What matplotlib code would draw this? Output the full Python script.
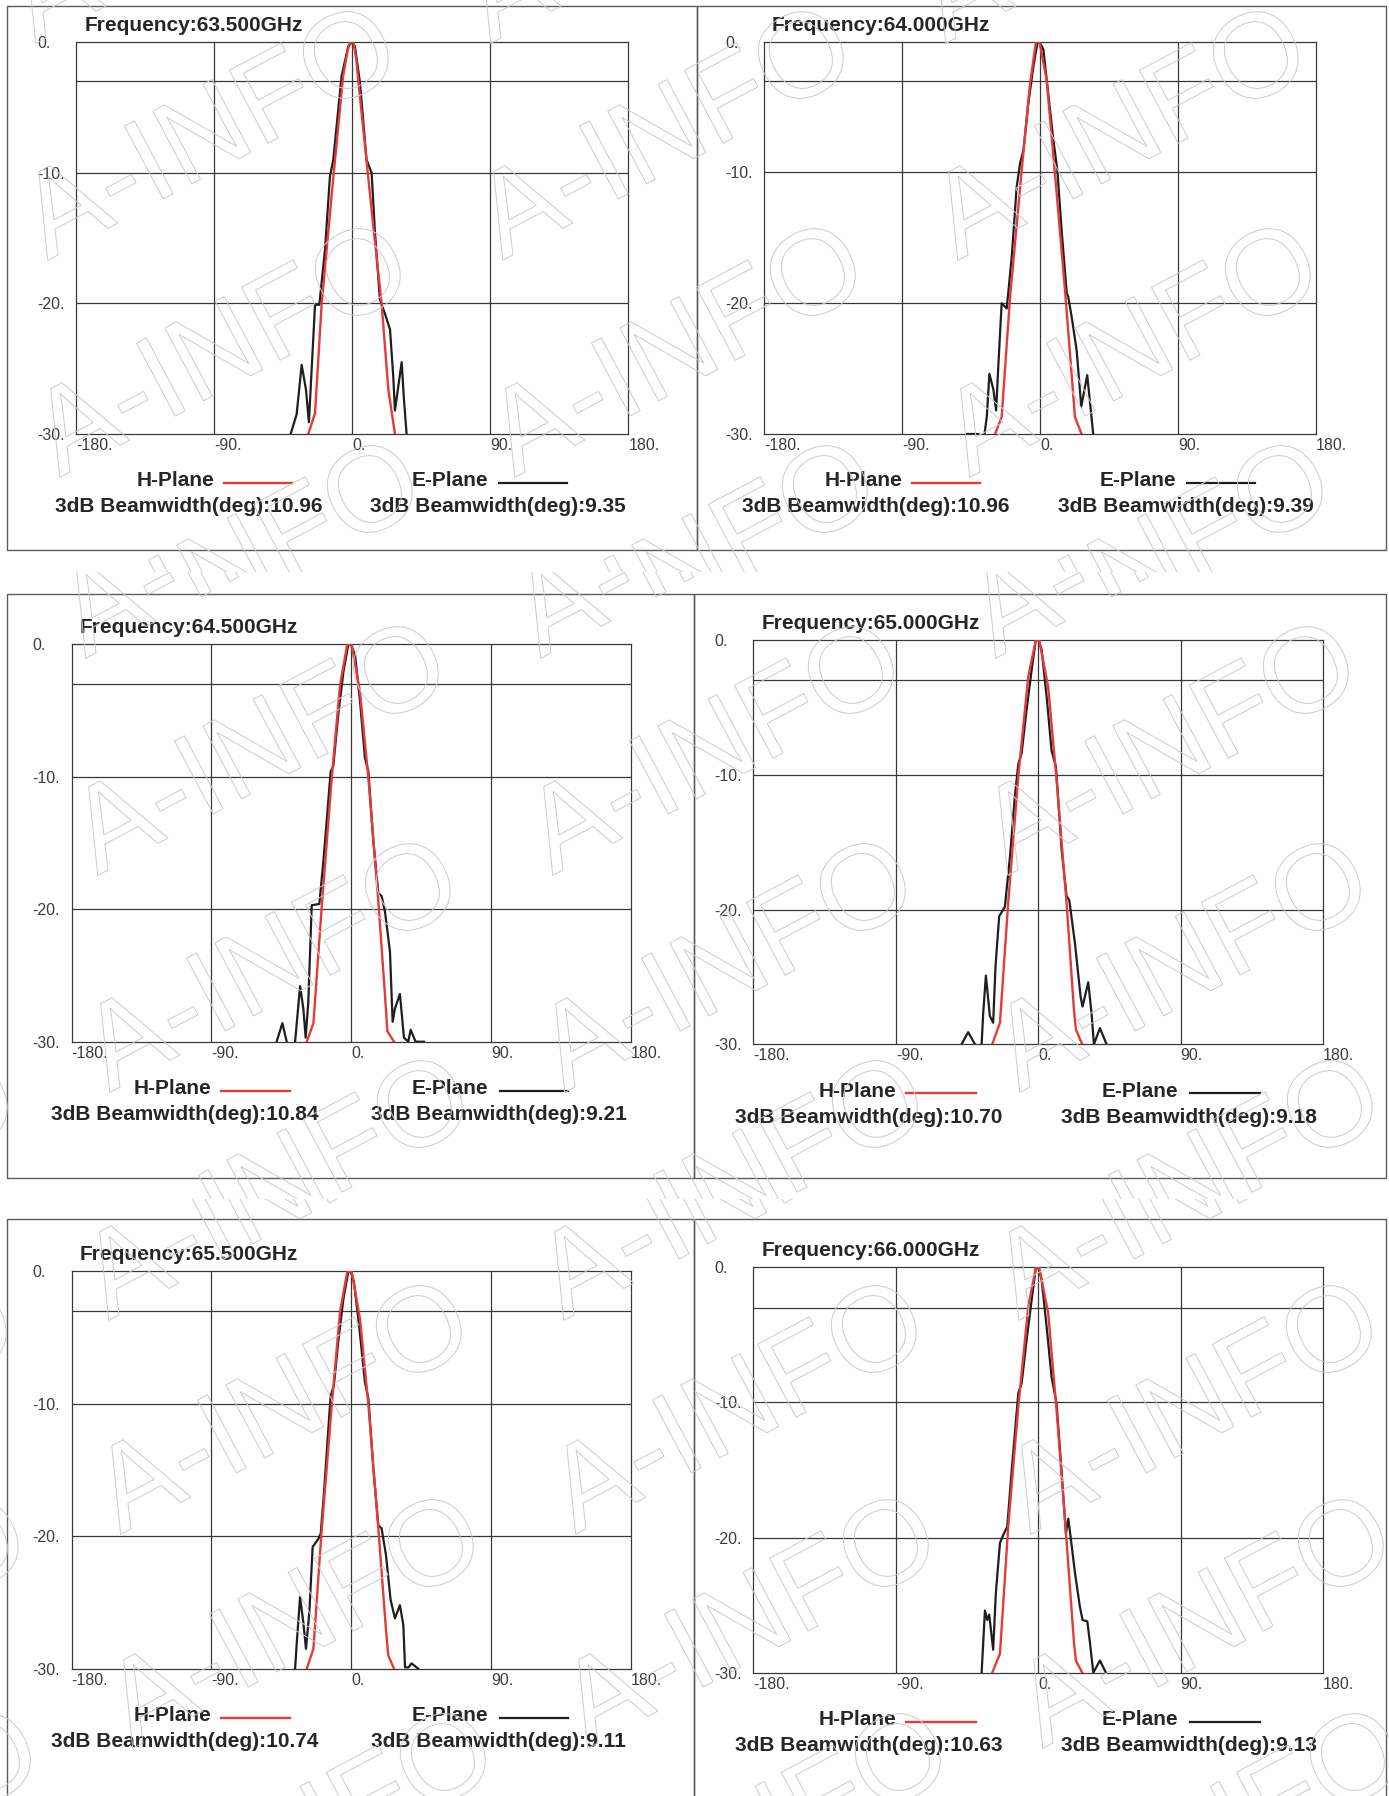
import numpy as np
import matplotlib
matplotlib.use("Agg")
import matplotlib.pyplot as plt
from matplotlib.textpath import TextPath
from matplotlib.font_manager import FontProperties
from matplotlib.patches import PathPatch, Rectangle
from matplotlib.transforms import Affine2D, IdentityTransform, Bbox
from matplotlib.lines import Line2D

plt.rcParams['font.family'] = ['Liberation Sans', 'DejaVu Sans']

# ---------------- data ----------------
frequencies = ["63.500", "64.000", "64.500", "65.000", "65.500", "66.000"]
h_beamwidth = ["10.96", "10.96", "10.84", "10.70", "10.74", "10.63"]
e_beamwidth = ["9.35", "9.39", "9.21", "9.18", "9.11", "9.13"]

x_ticks = [-180, -90, 0, 90, 180]
x_tick_labels = ["-180.", "-90.", "0.", "90.", "180."]
y_ticks = [0, -10, -20, -30]
y_tick_labels = ["0.", "-10.", "-20.", "-30."]
grid_angles = [-90, 0, 90]
grid_levels = [-3, -10, -20]
nan = np.nan

# 63.5 GHz
h1_ang = [-28.7, -24.3, -20.0, -13.3, -6.0, -3.0, -1.5, 0.7, 2.5, 5.0, 13.7, 19.1, 23.5, 27.8]
h1_db = [-30, -28.4, -20.1, -11.5, -2.6, -0.6, 0, 0, -1.2, -4.2, -14.1, -20.0, -26.6, -30]
e1_ang = [-40.2, -36.3, -33.0, -30.2, -28.3, -24.3, -21.5, -17.8, -14.6, -12.4, -7.0, -2.6, -0.4,
          1.7, 5.0, 9.3, 12.6, 14.8, 18.0, 21.3, 24.6, 26.7, 27.8, 32.2, 33.7, 35.4]
e1_db = [-30, -28.5, -24.7, -26.6, -29.1, -20.1, -20.1, -15.9, -10.3, -9.0, -2.6, -0.3, 0,
         -0.3, -3.1, -9.0, -10.0, -14.6, -19.7, -20.8, -22.0, -25.6, -28.2, -24.5, -27.4, -30]

# 64.0 GHz
h2_ang = [-29.3, -25.0, -19.5, -11.9, -6.5, -2.6, -0.4, 4.3, 10.8, 16.3, 22.8, 27.1]
h2_db = [-30, -28.7, -19.5, -9.8, -3.2, 0, 0, -2.9, -11.5, -19.0, -28.7, -30]
e2_ang = [-47.7, -40.1, nan, -36.2, -34.7, -33.0, -30.4, -28.6, -27.1, -25.0, -21.7, -18.4, -15.2,
          -13.0, -10.8, -7.6, -4.3, -1.7, -0.4, 2.2, 5.4, 8.7, 11.3, 14.1, 17.4, 18.4, 20.6,
          23.9, 26.9, 30.8, 34.7]
e2_db = [-30, -30, nan, -30, -28.7, -25.4, -26.6, -28.2, -24.6, -20.0, -20.4, -16.4, -11.1,
         -9.3, -8.3, -4.7, -1.9, -0.1, 0, -0.6, -4.0, -7.5, -9.8, -14.4, -19.2, -19.5, -21.0,
         -23.6, -27.9, -25.5, -30]

# 64.5 GHz
h3_ang = [-28.5, -24.2, -18.9, -12.4, -7.1, -2.4, 0.4, 5.8, 11.2, 17.6, 21.9, 23.4, 27.7]
h3_db = [-30, -28.6, -19.9, -10.1, -3.1, 0, 0, -3.6, -10.1, -19.4, -26.5, -29.2, -30]
e3_ang = [-47.9, -44.2, -41.4, nan, -36.0, -32.8, -30.7, -29.2, -27.5, -25.3, -20.4, -17.8, -15.7,
          -13.1, -11.4, -8.2, -4.9, -1.7, -0.2, 2.6, 5.8, 9.0, 11.2, 14.4, 17.6, 19.7, 21.9,
          25.1, 26.8, 28.3, 31.5, 34.1, 36.9, 38.4, 41.6, 47.0]
e3_db = [-30, -28.6, -30, nan, -30, -25.8, -27.5, -29.7, -27.0, -19.7, -19.6, -16.4, -13.4,
         -9.6, -9.2, -5.3, -2.1, 0, 0, -0.8, -4.3, -8.6, -9.6, -14.9, -18.8, -19.0, -20.2,
         -23.2, -28.5, -27.5, -26.4, -29.7, -30, -29.1, -30, -30]

# 65.0 GHz
h4_ang = [-29.1, -24.2, -19.0, -12.6, -6.3, -1.5, 0.6, 6.3, 11.6, 17.9, 22.6, 23.8, 27.8]
h4_db = [-30, -28.4, -19.5, -10.1, -2.7, 0, 0, -3.5, -10.4, -19.5, -27.5, -28.9, -30]
e4_ang = [-48.5, -44.3, -40.0, nan, -35.8, -34.8, -33.1, -30.6, -28.5, -27.0, -24.7, -21.1, -17.9,
          -14.8, -12.6, -10.5, -7.4, -3.6, -1.5, 0.2, 2.1, 5.3, 8.4, 11.2, 14.8, 17.9, 19.6,
          23.2, 26.8, 28.0, 31.6, 33.7, 35.2, 39.0, 43.2]
e4_db = [-30, -29.1, -30, nan, -30, -27.7, -24.9, -27.9, -28.4, -24.2, -20.5, -19.8, -16.1,
         -11.6, -9.2, -8.4, -5.2, -1.7, 0, 0, -0.7, -4.2, -8.2, -9.4, -15.6, -19.0, -19.3,
         -22.5, -26.5, -27.2, -25.4, -27.7, -30, -28.8, -30]

# 65.5 GHz
h5_ang = [-28.5, -24.2, -19.3, -12.4, -7.1, -2.4, 0.4, 5.8, 11.2, 17.6, 22.5, 24.0, 27.7]
h5_db = [-30, -28.5, -20.2, -10.1, -3.1, 0, 0, -3.6, -10.1, -19.4, -27.0, -29.0, -30]
e5_ang = [-36.0, -34.9, -32.8, -30.7, -29.0, -26.8, -24.7, -21.0, -19.5, -17.4, -14.6, -13.1, -11.0,
          -8.2, -4.9, -1.7, -0.2, 1.9, 5.4, 9.0, 11.2, 14.4, 17.6, 19.7, 22.5, 25.5, 28.3,
          31.5, 33.7, 34.8, 37.0, 39.0, 43.3]
e5_db = [-30, -28.0, -24.6, -26.5, -28.5, -25.7, -20.8, -20.2, -19.8, -16.7, -11.9, -9.4, -8.6,
         -5.3, -2.1, 0, 0, -0.8, -4.3, -8.4, -9.6, -14.9, -19.2, -19.4, -21.4, -24.8, -26.2,
         -25.2, -26.7, -29.9, -29.9, -29.6, -30]

# 66.0 GHz
h6_ang = [-29.1, -24.2, -19.0, -12.6, -6.3, -1.5, 0.6, 6.3, 11.6, 16.9, 22.6, 23.8, 27.8]
h6_db = [-30, -28.6, -19.2, -10.3, -2.9, 0, 0, -3.4, -10.6, -18.7, -27.8, -29.1, -30]
e6_ang = [-35.8, -33.7, -32.2, -31.0, -28.5, -26.8, -24.2, -22.1, -19.6, -16.9, -14.8, -12.6, -10.5,
          -7.4, -3.6, -1.5, 0.0, 2.1, 5.3, 8.4, 11.6, 14.8, 17.5, 19.0, 20.4, 23.2, 26.3,
          28.0, 31.0, 32.7, 34.8, 39.0, 42.8]
e6_db = [-30, -25.4, -26.1, -25.7, -28.3, -24.1, -20.4, -19.8, -19.2, -15.2, -12.3, -9.3, -8.6,
         -5.4, -1.9, 0, 0, -0.9, -4.4, -8.1, -10.1, -15.2, -19.7, -18.6, -19.9, -22.6, -25.1,
         -26.1, -26.2, -27.8, -30, -29.1, -30]

h_series = [(h1_ang, h1_db), (h2_ang, h2_db), (h3_ang, h3_db),
            (h4_ang, h4_db), (h5_ang, h5_db), (h6_ang, h6_db)]
e_series = [(e1_ang, e1_db), (e2_ang, e2_db), (e3_ang, e3_db),
            (e4_ang, e4_db), (e5_ang, e5_db), (e6_ang, e6_db)]

# ---------------- layout (pixels) ----------------
W, H = 1389, 1796
axes_px = [(76.2, 628.4, 42.3, 434.0), (764.0, 1316.0, 41.7, 434.0),
           (71.5, 630.5, 644.3, 1041.7), (753.5, 1323.0, 640.0, 1044.3),
           (71.5, 630.5, 1271.3, 1668.7), (753.5, 1323.0, 1267.3, 1672.7)]
boxes_px = [(7, 6, 697, 550), (697, 6, 1386, 550),
            (7, 594, 693.5, 1178), (693.5, 594, 1386, 1178),
            (7, 1219, 693.5, 1805), (693.5, 1219, 1386, 1805)]

RED = '#e23b3b'
BLACK = '#1e1e1e'
GRID = '#383838'
TXT = '#262626'

fig = plt.figure(figsize=(W / 100, H / 100), dpi=100)
fig.patch.set_facecolor('white')


def fx(x):
    return x / W


def fy(y):
    return 1 - y / H


for (x0, y0, x1, y1) in boxes_px:
    fig.add_artist(Rectangle((fx(x0), fy(y1)), (x1 - x0) / W, (y1 - y0) / H,
                             transform=fig.transFigure, fill=False,
                             edgecolor='#5c5c5c', lw=1.0, zorder=0))

for i, (L, R, T, B) in enumerate(axes_px):
    ax = fig.add_axes([fx(L), fy(B), (R - L) / W, (B - T) / H])
    ax.set_facecolor('none')
    ax.set_xlim(-180, 180)
    ax.set_ylim(-30, 0)
    for a in grid_angles:
        ax.axvline(a, color=GRID, lw=0.9, zorder=1)
    for g in grid_levels:
        ax.axhline(g, color=GRID, lw=0.9, zorder=1)
    ea, ed = e_series[i]
    ha_, hd = h_series[i]
    ax.plot(ea, ed, color=BLACK, lw=1.6, zorder=3)
    ax.plot(ha_, hd, color=RED, lw=1.7, zorder=4)
    ax.set_xticks(x_ticks)
    ax.set_xticklabels(x_tick_labels, ha='left')
    ax.set_yticks(y_ticks)
    ax.set_yticklabels(y_tick_labels, ha='left')
    ax.tick_params(axis='both', length=0, labelsize=11.5, labelcolor='#3c3c3c')
    ax.tick_params(axis='y', pad=28)
    ax.tick_params(axis='x', pad=3)
    for sp in ax.spines.values():
        sp.set_color(GRID)
        sp.set_linewidth(0.9)

    w = R - L
    fig.text(fx(L + 8), fy(T - 16.5), "Frequency:%sGHz" % frequencies[i],
             ha='left', va='center', fontsize=15, fontweight='bold', color=TXT)
    ly = B + 47
    fig.text(fx(L + 0.25 * w), fy(ly), "H-Plane", ha='right', va='center',
             fontsize=15, fontweight='bold', color=TXT)
    fig.add_artist(Line2D([fx(L + 0.268 * w), fx(L + 0.391 * w)], [fy(ly + 2), fy(ly + 2)],
                          transform=fig.transFigure, color=RED, lw=1.7))
    fig.text(fx(L + 0.746 * w), fy(ly), "E-Plane", ha='right', va='center',
             fontsize=15, fontweight='bold', color=TXT)
    fig.add_artist(Line2D([fx(L + 0.766 * w), fx(L + 0.889 * w)], [fy(ly + 2), fy(ly + 2)],
                          transform=fig.transFigure, color=BLACK, lw=1.6))
    by = B + 73
    fig.text(fx(L + 0.203 * w), fy(by), "3dB Beamwidth(deg):%s" % h_beamwidth[i],
             ha='center', va='center', fontsize=15, fontweight='bold', color=TXT)
    fig.text(fx(L + 0.764 * w), fy(by), "3dB Beamwidth(deg):%s" % e_beamwidth[i],
             ha='center', va='center', fontsize=15, fontweight='bold', color=TXT)

# ---------------- watermark ----------------
fp = FontProperties(family='Liberation Sans')
em = 120
tp = TextPath((0, 0), "A-INFO", size=em, prop=fp)
ext = tp.get_extents()
ocx = ext.x1 - 0.37 * em
ocy = 0.36 * em
wm_rows = [(0, 572, 342, 55, 217), (572, 1199, 392, 670, 217), (1199, 1796, 415, 1329, 214)]
for (y0, y1, ox, oy, dy) in wm_rows:
    clipbox = Bbox.from_extents(0, H - y1, W, H - y0)
    for ci in range(-2, 5):
        for rj in range(-4, 6):
            X = ox + 455 * ci + 12 * rj
            Y = oy + dy * rj
            tr = Affine2D().translate(-ocx, -ocy).rotate_deg(28).translate(X, H - Y)
            p = PathPatch(tr.transform_path(tp), facecolor='none', edgecolor='#cbcbcb',
                          lw=0.7, transform=IdentityTransform(), zorder=20)
            p.set_clip_box(clipbox)
            fig.add_artist(p)

fig.savefig("out.png", dpi=100)
